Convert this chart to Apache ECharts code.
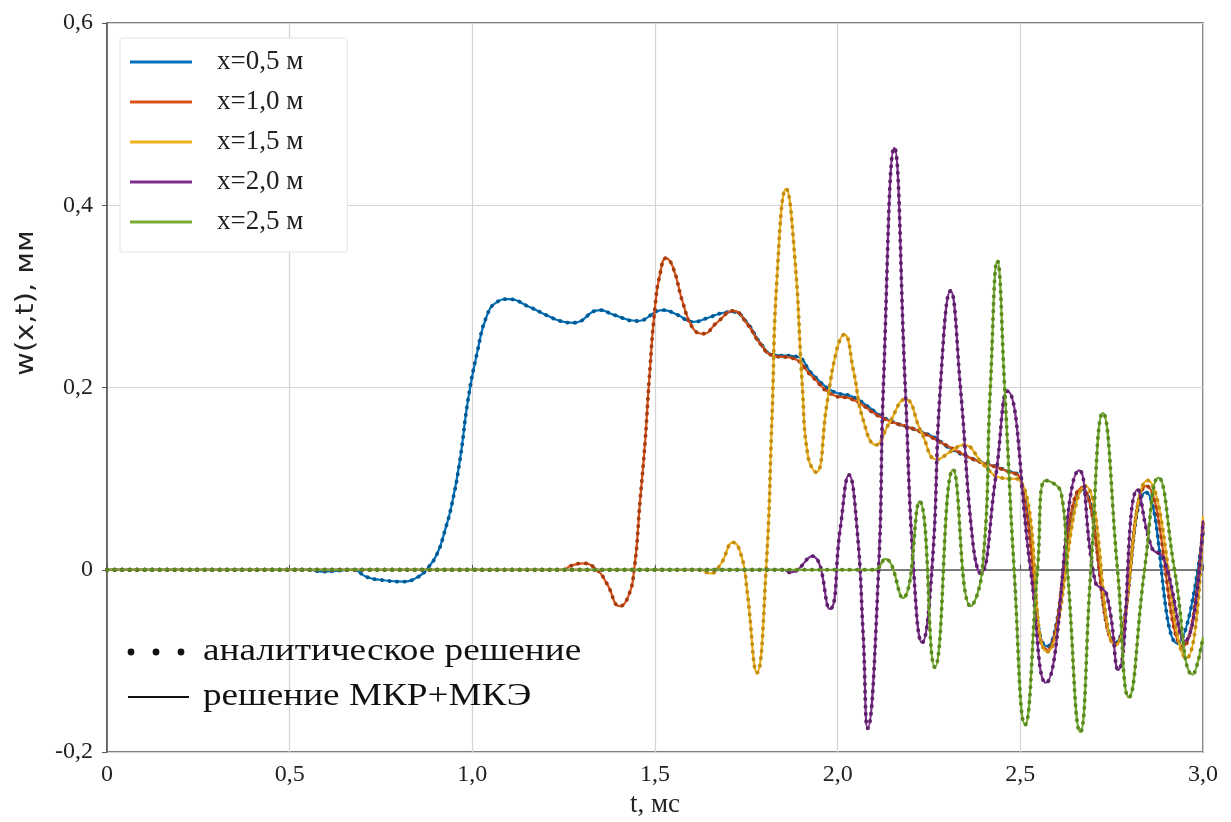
<!DOCTYPE html>
<html>
<head>
<meta charset="utf-8">
<script src="https://cdn.jsdelivr.net/npm/echarts@6/dist/echarts.min.js"></script>
<style>html,body{margin:0;padding:0;background:#fff}#c{width:1231px;height:822px}</style>
</head>
<body>
<div id="c"></div>
<script>
// ---- data (t in ms, w in mm) ----
const seriesNames = ['x=0,5 м','x=1,0 м','x=1,5 м','x=2,0 м','x=2,5 м'];
const xTicks = [0, 0.5, 1.0, 1.5, 2.0, 2.5, 3.0];
const yTicks = [-0.2, 0, 0.2, 0.4, 0.6];

const blueData = [[0,0],[0.55,0],[0.59,-0.002],[0.637,-0.001],[0.673,0],[0.711,-0.008],[0.747,-0.011],[0.81,-0.013],[0.851,-0.008],[0.876,0.001],[0.903,0.017],[0.925,0.043],[0.944,0.072],[0.966,0.12],[0.988,0.186],[1.013,0.238],[1.04,0.279],[1.068,0.294],[1.098,0.297],[1.158,0.288],[1.205,0.279],[1.24,0.273],[1.276,0.271],[1.35,0.285],[1.385,0.28],[1.451,0.273],[1.522,0.285],[1.56,0.28],[1.604,0.272],[1.642,0.276],[1.687,0.282],[1.714,0.283],[1.752,0.271],[1.788,0.249],[1.823,0.236],[1.887,0.234],[1.93,0.215],[1.986,0.196],[2.04,0.19],[2.08,0.18],[2.13,0.166],[2.217,0.153],[2.266,0.145],[2.3,0.135],[2.373,0.121],[2.454,0.11],[2.5,0.099],[2.574,-0.084],[2.67,0.088],[2.76,-0.08],[2.843,0.085],[2.93,-0.081],[3.0,0.04]];
const orangeData = [[0,0],[1.25,0],[1.267,0.004],[1.303,0.007],[1.341,0],[1.368,-0.015],[1.404,-0.04],[1.426,-0.03],[1.443,0],[1.459,0.075],[1.473,0.141],[1.484,0.208],[1.5,0.288],[1.514,0.325],[1.53,0.342],[1.549,0.332],[1.577,0.292],[1.604,0.265],[1.632,0.259],[1.669,0.271],[1.714,0.284],[1.752,0.27],[1.788,0.248],[1.823,0.235],[1.878,0.232],[1.93,0.212],[1.986,0.192],[2.04,0.187],[2.125,0.166],[2.217,0.153],[2.3,0.136],[2.373,0.121],[2.464,0.108],[2.5,0.099],[2.574,-0.088],[2.668,0.09],[2.76,-0.082],[2.845,0.092],[2.945,-0.085],[3.0,0.05]];
const yellowData = [[0,0],[1.6,0],[1.623,0],[1.651,-0.004],[1.678,0.005],[1.714,0.03],[1.738,0.013],[1.752,-0.023],[1.779,-0.113],[1.804,0],[1.82,0.164],[1.834,0.321],[1.859,0.418],[1.883,0.341],[1.903,0.203],[1.919,0.124],[1.941,0.107],[1.971,0.183],[1.998,0.242],[2.018,0.258],[2.043,0.219],[2.07,0.164],[2.105,0.137],[2.14,0.16],[2.185,0.187],[2.23,0.15],[2.272,0.121],[2.31,0.13],[2.345,0.137],[2.4,0.115],[2.446,0.101],[2.496,0.099],[2.574,-0.09],[2.678,0.092],[2.76,-0.083],[2.848,0.098],[2.955,-0.097],[3.0,0.059]];
const purpleData = [[0,0],[1.85,0],[1.87,-0.003],[1.93,0.015],[1.978,-0.043],[2.007,0.045],[2.031,0.104],[2.053,0.045],[2.07,-0.073],[2.082,-0.174],[2.112,0],[2.125,0.2],[2.155,0.463],[2.185,0.2],[2.208,0],[2.231,-0.08],[2.258,0],[2.281,0.2],[2.309,0.306],[2.336,0.2],[2.37,0.03],[2.391,-0.004],[2.432,0.1],[2.464,0.196],[2.528,0],[2.57,-0.124],[2.661,0.109],[2.705,-0.013],[2.736,-0.027],[2.768,-0.11],[2.821,0.088],[2.86,0.024],[2.892,0.013],[2.951,-0.078],[3.0,0.054]];
const greenData = [[0,0],[2.1,0],[2.13,0.012],[2.178,-0.031],[2.224,0.075],[2.266,-0.107],[2.316,0.11],[2.364,-0.04],[2.396,0],[2.418,0.2],[2.437,0.339],[2.457,0.2],[2.483,0],[2.513,-0.17],[2.547,0],[2.569,0.098],[2.612,0.084],[2.629,0],[2.664,-0.178],[2.693,0],[2.726,0.172],[2.766,0],[2.797,-0.14],[2.84,0],[2.878,0.101],[2.922,0],[2.972,-0.115],[3.0,-0.074]];

const lineColors = ['#0072BD','#D95319','#EDB120','#7E2F8E','#77AC30'];
const dotColors  = ['#005a96','#a83d10','#c48e10','#5e1f6b','#5a8a1f'];
const allData = [blueData, orangeData, yellowData, purpleData, greenData];

const fmt = v => (Math.abs(v) < 1e-9 ? '0' : v.toFixed(1).replace('.', ','));
const serif = '"Liberation Serif", "DejaVu Serif", serif';
const sans = '"DejaVu Sans", "Liberation Sans", sans-serif';

const series = [];
allData.forEach((d, i) => {
  series.push({
    name: seriesNames[i], type: 'line', data: d, smooth: 0.5,
    symbol: 'none', lineStyle: {color: lineColors[i], width: 2.2}, itemStyle: {color: lineColors[i]},
    z: 2 + i * 2, animation: false
  });
  series.push({
    name: seriesNames[i] + ' (аналит.)', type: 'line', data: d, smooth: 0.5,
    symbol: 'none', lineStyle: {color: dotColors[i], width: 3.8, type: [0.5, 7], cap: 'round'},
    z: 3 + i * 2, animation: false, silent: true
  });
});

const chart = echarts.init(document.getElementById('c'), null, {renderer: 'canvas'});
chart.setOption({
  backgroundColor: '#fff',
  animation: false,
  grid: {left: 107, right: 28, top: 23, bottom: 70, containLabel: false, outerBoundsMode: 'none',
         show: true, borderColor: '#555', borderWidth: 1.5, backgroundColor: 'transparent'},
  xAxis: {
    type: 'value', min: 0, max: 3, interval: 0.5,
    name: 't, мс', nameLocation: 'middle', nameGap: 39,
    nameTextStyle: {fontFamily: serif, fontSize: 27, color: '#222'},
    axisLine: {lineStyle: {color: '#555', width: 1.5}},
    axisTick: {show: true, inside: true, length: 5, lineStyle: {color: '#555'}},
    axisLabel: {formatter: fmt, fontFamily: serif, fontSize: 24, color: '#222', margin: 11},
    splitLine: {show: true, lineStyle: {color: '#d4d4d4', width: 1.2}}
  },
  yAxis: {
    type: 'value', min: -0.2, max: 0.6, interval: 0.2,
    axisLine: {lineStyle: {color: '#555', width: 1.5}},
    axisTick: {show: true, inside: false, length: 5, lineStyle: {color: '#555'}},
    axisLabel: {formatter: fmt, fontFamily: serif, fontSize: 24, color: '#222', margin: 14},
    splitLine: {show: true, lineStyle: {color: '#d4d4d4', width: 1.2}}
  },
  legend: {
    data: seriesNames.map(n => ({name: n, icon: 'rect'})), orient: 'vertical', left: 120, top: 38,
    itemWidth: 62, itemHeight: 3, itemGap: 12,
    backgroundColor: '#fff', borderColor: '#e2e2e2', borderWidth: 1, borderRadius: 2,
    padding: [10, 44, 16, 10],
    textStyle: {fontFamily: serif, fontSize: 27, lineHeight: 28, color: '#222', padding: [0, 0, 0, 20]},
    selectedMode: false
  },
  graphic: [
    {type: 'text', x: 27, y: 303, rotation: Math.PI / 2, scaleX: 1.2, z: 100,
     style: {text: 'w(x,t), мм', font: '24px ' + sans, fill: '#222', align: 'center', verticalAlign: 'middle'}},
    {type: 'circle', shape: {cx: 131, cy: 652, r: 3.4}, style: {fill: '#111'}, z: 100},
    {type: 'circle', shape: {cx: 156, cy: 652, r: 3.4}, style: {fill: '#111'}, z: 100},
    {type: 'circle', shape: {cx: 181, cy: 652, r: 3.4}, style: {fill: '#111'}, z: 100},
    {type: 'text', x: 203, y: 652, scaleX: 1.2, z: 100,
     style: {text: 'аналитическое решение', font: '31px ' + serif, fill: '#111', verticalAlign: 'middle'}},
    {type: 'line', shape: {x1: 128, y1: 697, x2: 189, y2: 697}, style: {stroke: '#111', lineWidth: 2}, z: 100},
    {type: 'text', x: 203, y: 697, scaleX: 1.2, z: 100,
     style: {text: 'решение МКР+МКЭ', font: '31px ' + serif, fill: '#111', verticalAlign: 'middle'}}
  ],
  series: series
});
</script>
</body>
</html>
